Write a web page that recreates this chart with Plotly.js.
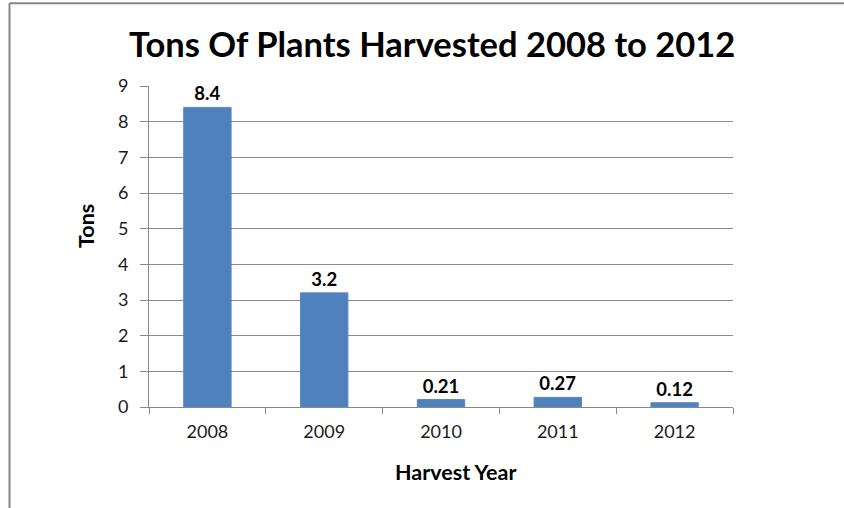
<!DOCTYPE html>
<html>
<head>
<meta charset="utf-8">
<script src="https://cdn.plot.ly/plotly-3.0.1.min.js"></script>
<style>
  html, body { margin: 0; padding: 0; background: #ffffff; }
  #chart { width: 844px; height: 508px; }
</style>
</head>
<body>
<div id="chart"></div>
<script>
const years = ["2008", "2009", "2010", "2011", "2012"];
const tons = [8.4, 3.2, 0.21, 0.27, 0.12];
const tonLabels = ["8.4", "3.2", "0.21", "0.27", "0.12"];
const chartTitle = "Tons Of Plants Harvested 2008 to 2012";
const xTitle = "Harvest Year";
const yTitle = "Tons";

const FONT = "Lato, 'Open Sans', 'Noto Sans', sans-serif";

const W = 844, H = 508;
const mL = 149, mR = 111, mT = 86, mB = 101;
const pw = W - mL - mR, ph = H - mT - mB;
const px = x => (x - mL) / pw;
const py = y => 1 - (y - mT) / ph;

const trace = {
  type: "bar",
  x: years,
  y: tons,
  text: tonLabels,
  textposition: "outside",
  cliponaxis: false,
  textfont: { family: FONT, size: 18.5, color: "#000000", weight: "bold" },
  marker: { color: "#4F81BD", line: { color: "#5a8bc6", width: 1 } },
  hoverinfo: "x+y"
};

const layout = {
  width: W, height: H,
  margin: { l: mL, r: mR, t: mT, b: mB, pad: 0 },
  paper_bgcolor: "#ffffff",
  plot_bgcolor: "#ffffff",
  showlegend: false,
  bargap: 0.594,
  font: { family: FONT, size: 18, color: "#1a1a1a" },
  xaxis: {
    type: "category",
    range: [-0.5, 4.5],
    showline: true, linecolor: "#888888", linewidth: 1,
    ticks: "outside", tickson: "boundaries", ticklen: 6, tickcolor: "#888888",
    showgrid: false,
    tickfont: { family: FONT, size: 18, color: "#1a1a1a" },
    ticklabelstandoff: 8,
    fixedrange: true
  },
  yaxis: {
    range: [0, 9],
    dtick: 1, tick0: 0,
    showline: true, linecolor: "#888888", linewidth: 1,
    ticks: "outside", ticklen: 8, tickcolor: "#888888",
    showgrid: true, gridcolor: "#8c8c8c", gridwidth: 1,
    zeroline: false,
    tickfont: { family: FONT, size: 18, color: "#1a1a1a" },
    ticklabelstandoff: 8,
    fixedrange: true
  },
  annotations: [
    { text: "<b>" + chartTitle + "</b>", xref: "paper", yref: "paper",
      x: px(432), y: py(43), xanchor: "center", yanchor: "middle", showarrow: false,
      font: { family: FONT, size: 34.5, color: "#000000" } },
    { text: "<b>" + xTitle + "</b>", xref: "paper", yref: "paper",
      x: px(455), y: py(472), xanchor: "center", yanchor: "middle", showarrow: false,
      font: { family: FONT, size: 21.5, color: "#000000" } },
    { text: "<b>" + yTitle + "</b>", xref: "paper", yref: "paper",
      x: px(86), y: py(226), xanchor: "center", yanchor: "middle", showarrow: false,
      textangle: -90,
      font: { family: FONT, size: 21.5, color: "#000000" } }
  ],
  shapes: [
    { type: "line", xref: "paper", yref: "paper",
      x0: px(9.5), y0: py(3.3), x1: px(860), y1: py(3.3),
      line: { color: "#888888", width: 2 } },
    { type: "line", xref: "paper", yref: "paper",
      x0: px(9.5), y0: py(3.3), x1: px(9.5), y1: py(520),
      line: { color: "#888888", width: 2 } }
  ]
};

Plotly.newPlot("chart", [trace], layout, { displayModeBar: false, staticPlot: false });
</script>
</body>
</html>
